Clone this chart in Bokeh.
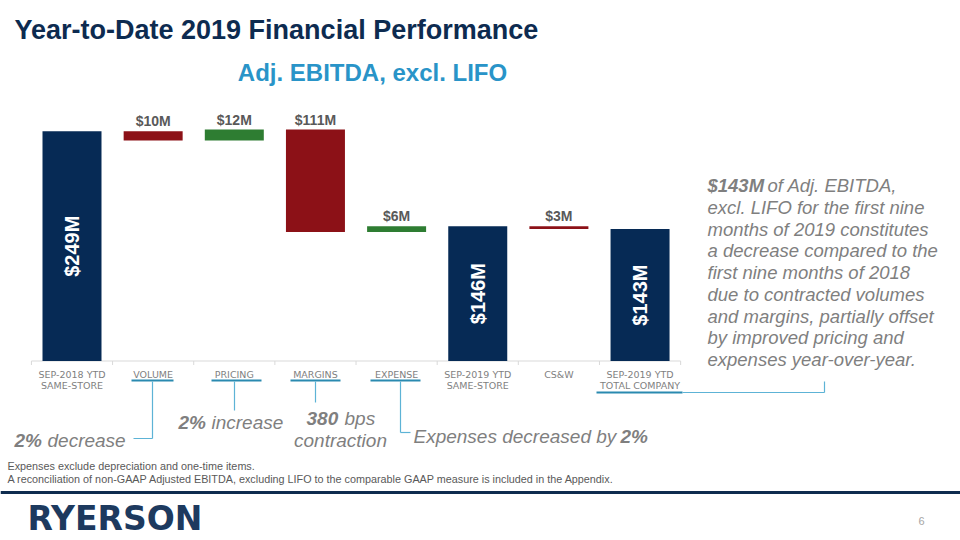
from bokeh.plotting import figure
from bokeh.models import Range1d, ColumnDataSource
from bokeh.core.properties import value
from bokeh.embed import file_html
from bokeh.resources import INLINE
import math

# ---------------- data ----------------
cat_line1 = ["SEP-2018 YTD", "VOLUME", "PRICING", "MARGINS", "EXPENSE",
             "SEP-2019 YTD", "CS&W", "SEP-2019 YTD"]
cat_line2 = ["SAME-STORE", "", "", "", "", "SAME-STORE", "", "TOTAL COMPANY"]
step_values = [249, -10, 12, -111, 6, 146, -3, 143]
is_total = [True, False, False, False, False, True, False, True]
value_labels = ["$249M", "$10M", "$12M", "$111M", "$6M", "$146M", "$3M", "$143M"]

title_text = "Year-to-Date 2019 Financial Performance"
subtitle_text = "Adj. EBITDA, excl. LIFO"
summary_bold = "$143M"
summary_lines = [
    "of Adj. EBITDA,",
    "excl. LIFO for the first nine",
    "months of 2019 constitutes",
    "a decrease compared to the",
    "first nine months of 2018",
    "due to contracted volumes",
    "and margins, partially offset",
    "by improved pricing and",
    "expenses year-over-year.",
]
notes = [
    "Expenses exclude depreciation and one-time items.",
    "A reconciliation of non-GAAP Adjusted EBITDA,  excluding LIFO  to the comparable GAAP measure is included in the Appendix.",
]
logo_text = "RYERSON"
page_number = "6"

# ---------------- derived waterfall ----------------
bottoms, tops, colors = [], [], []
running = 0
NAVY, RED, GREEN = "#062a55", "#8c1117", "#2e7d32"
for v, t in zip(step_values, is_total):
    if t:
        b, e = 0, v
        running = v
        colors.append(NAVY)
    else:
        b = running
        running += v
        e = running
        colors.append(RED if v < 0 else GREEN)
    bottoms.append(min(b, e))
    tops.append(max(b, e))
xs = list(range(len(step_values)))

# ---------------- layout ----------------
W, H, OFF = 960, 540, 0
X0_IMG, STEP = 71.5, 81.15
BASE_IMG, TOP_IMG = 360.5, 129.0
scale = (BASE_IMG - TOP_IMG) / max(tops)

p = figure(width=W, height=H, output_backend="svg", toolbar_location=None,
           x_axis_type=None, y_axis_type=None, min_border=0,
           x_range=Range1d((OFF - X0_IMG) / STEP, (OFF + W - X0_IMG) / STEP),
           y_range=Range1d(-(OFF + H - BASE_IMG) / scale, (BASE_IMG - OFF) / scale))
p.outline_line_color = None
p.background_fill_color = "white"
p.border_fill_color = "white"
p.extra_x_ranges = {"px": Range1d(OFF, OFF + W)}
p.extra_y_ranges = {"px": Range1d(OFF + H, OFF)}

SANS = "Liberation Sans"
GRAY = "#7f7f7f"
DGRAY = "#595959"
TEAL = "#2a8ab0"
LTEAL = "#5db3d6"


def txt(x, y, s, size, color, style="normal", align="left", font=SANS):
    p.text(x=[x], y=[y], text=[s], x_range_name="px", y_range_name="px",
           text_font=value(font), text_font_size=f"{size}px", text_color=color,
           text_font_style=style, text_align=align, text_baseline="middle")


def seg(x0, y0, x1, y1, color, w=1.5):
    p.segment(x0=[x0], y0=[y0], x1=[x1], y1=[y1], x_range_name="px",
              y_range_name="px", line_color=color, line_width=w)


# title
txt(14, 29, title_text, 27, "#0d2b50", "bold")
txt(372, 72, subtitle_text, 24, "#2994c8", "bold", "center")

# axis line and ticks
p.segment(x0=[-0.5], y0=[0], x1=[len(xs) - 0.5], y1=[0], line_color="#d9d9d9", line_width=1)
tick_x = [i + 0.5 for i in range(-1, len(xs))]
p.segment(x0=tick_x, y0=[0] * len(tick_x), x1=tick_x, y1=[-4 / scale] * len(tick_x),
          line_color="#d9d9d9", line_width=1)

# bars
src = ColumnDataSource(dict(x=xs, bottom=bottoms, top=tops, color=colors))
p.vbar(x="x", width=0.727, bottom="bottom", top="top", fill_color="color",
       line_color=None, source=src)

# delta labels above
dx = [x for x, t in zip(xs, is_total) if not t]
dy = [tp + 10 / scale for tp, t in zip(tops, is_total) if not t]
dl = [l for l, t in zip(value_labels, is_total) if not t]
p.text(x=dx, y=dy, text=dl, text_font=value(SANS), text_font_size="14px",
       text_font_style="bold", text_color=DGRAY, text_align="center",
       text_baseline="middle")

# total labels inside (rotated)
tx = [x for x, t in zip(xs, is_total) if t]
ty = [tp / 2 for tp, t in zip(tops, is_total) if t]
tl = [l for l, t in zip(value_labels, is_total) if t]
p.text(x=tx, y=ty, text=tl, angle=math.pi / 2, text_font=value(SANS),
       text_font_size="20px", text_font_style="bold", text_color="white",
       text_align="center", text_baseline="middle")

# category labels
p.text(x=xs, y=[-13.5 / scale] * len(xs), text=cat_line1, text_font=value("DejaVu Sans"),
       text_font_size="9.5px", text_color=GRAY, text_align="center", text_baseline="middle")
p.text(x=xs, y=[-24 / scale] * len(xs), text=cat_line2, text_font=value("DejaVu Sans"),
       text_font_size="9.5px", text_color=GRAY, text_align="center", text_baseline="middle")

# underlines
for cx, half in [(152, 21), (236, 25), (315, 25), (395, 25)]:
    seg(cx - half, 380, cx + half, 380, TEAL, 2)
seg(596, 392, 682, 392, TEAL, 2)
seg(682, 392, 824, 392, LTEAL, 1.2)
seg(824, 392, 824, 381, LTEAL, 1.2)

# connectors
seg(152, 381, 152, 438, LTEAL, 1.2)
seg(133, 438, 152, 438, LTEAL, 1.2)
seg(234, 381, 234, 410, LTEAL, 1.2)
seg(315, 381, 315, 402, LTEAL, 1.2)
seg(400, 381, 400, 432, LTEAL, 1.2)
seg(400, 432, 410, 432, LTEAL, 1.2)

# annotations
txt(14, 440, "2%", 19, GRAY, "bold italic")
txt(47, 440, "decrease", 19, GRAY, "italic")
txt(178, 422, "2%", 19, GRAY, "bold italic")
txt(211, 422, "increase", 19, GRAY, "italic")
txt(306, 418, "380", 19, GRAY, "bold italic")
txt(344, 418, "bps", 19, GRAY, "italic")
txt(340, 440, "contraction", 19, GRAY, "italic", "center")
txt(413, 436, "Expenses decreased by", 19, GRAY, "italic")
txt(620, 436, "2%", 19, GRAY, "bold italic")

# summary text
txt(707, 185, summary_bold, 18.5, GRAY, "bold italic")
txt(767, 185, summary_lines[0], 18.5, GRAY, "italic")
for i, line in enumerate(summary_lines[1:], start=1):
    txt(707, 185 + 21.75 * i, line, 18.5, GRAY, "italic")

# notes
txt(7, 465, notes[0], 10.8, DGRAY)
txt(7, 478, notes[1], 10.8, DGRAY)

# rule, logo, page number
seg(0, 492, W, 492, "#0f2c4f", 3)
txt(27, 518, logo_text, 33, "#1d3a5f", "bold", font="DejaVu Sans")
txt(921, 520, page_number, 11, "#a6a6a6", align="center")

open("out.html", "w").write(file_html(p, INLINE))
